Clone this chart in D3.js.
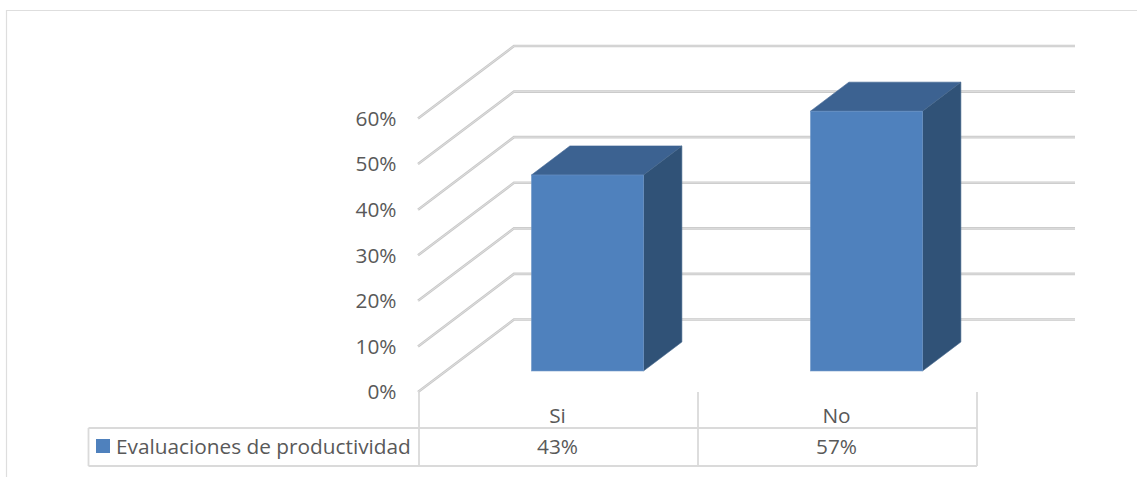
<!DOCTYPE html>
<html><head><meta charset="utf-8">
<script src="https://cdnjs.cloudflare.com/ajax/libs/d3/7.8.5/d3.min.js"></script>
<style>html,body{margin:0;padding:0;background:#fff}svg{display:block}text{font-family:"Open Sans",sans-serif;fill:#595959}</style>
</head><body><svg id="c" width="1137" height="477"></svg>
<script>
const categories = ["Si", "No"];
const seriesName = "Evaluaciones de productividad";
const seriesValues = [0.43, 0.57];
const tickValues = [0, 0.1, 0.2, 0.3, 0.4, 0.5, 0.6];

const W = 1137, H = 477;
const svg = d3.select("#c");
const y = d3.scaleLinear().domain([0, 0.6]).range([392, 118.5]);
const x = d3.scaleBand().domain(categories).range([419, 977]);
const depthX = 96, depthY = -72.5;
const barW = 112, barFrontFrac = 0.29, barBackFrac = 0.69, barShift = 30;
const fmt = d3.format(".0%");
const gridEdge = "#c9c9c9";
const fontSize = 20.8;

// outer frame
svg.append("path").attr("d", `M6.5,${H}V10.5H${W}`).attr("fill", "none").attr("stroke", "#dedede").attr("stroke-width", 1.2);

// gridlines: side wall + back wall
const gridG = svg.append("g").attr("fill", "none");
tickValues.forEach(t => {
  const d = `M418,${y(t)}L${418 + depthX},${y(t) + depthY}H1075`;
  gridG.append("path").attr("d", d).attr("stroke", gridEdge).attr("stroke-width", 2.6);
  gridG.append("path").attr("d", d).attr("stroke", "#dedede").attr("stroke-width", 1);
});

// y tick labels
svg.append("g").selectAll("text").data(tickValues).join("text")
  .attr("x", 396.5).attr("y", d => y(d)).attr("dy", "0.35em").attr("text-anchor", "end")
  .attr("font-size", fontSize).text(fmt);

// bars
const px = d => x(d) + (x.bandwidth() - barW) / 2 - 1 + barShift;
const base = y(0) + depthY * barFrontFrac;
const hgt = v => y(0) - y(v);
const dxB = depthX * (barBackFrac - barFrontFrac), dyB = depthY * (barBackFrac - barFrontFrac);
const bars = svg.append("g").selectAll("g").data(seriesValues).join("g");
const X = (d, i) => px(categories[i]);
bars.append("path").attr("fill", "#3c6291").attr("stroke", "#3c6291").attr("stroke-width", .6)
  .attr("d", (d, i) => { const l = X(d, i), t = base - hgt(d); return `M${l},${t}l${dxB},${dyB}h${barW}l${-dxB},${-dyB}Z`; });
bars.append("path").attr("fill", "#305277").attr("stroke", "#4a6b91").attr("stroke-width", .6)
  .attr("d", (d, i) => { const r = X(d, i) + barW, t = base - hgt(d); return `M${r},${t}l${dxB},${dyB}V${base + dyB}L${r},${base}Z`; });
bars.append("rect").attr("fill", "#4f81bd").attr("stroke", "#6d94c6").attr("stroke-width", .6)
  .attr("x", (d, i) => X(d, i)).attr("y", d => base - hgt(d)).attr("width", barW).attr("height", d => hgt(d));

// data table
const tL = 88.5, tT = 428, tB = 466;
const tbl = svg.append("g").attr("fill", "none").attr("stroke", "#dadada").attr("stroke-width", 1.8);
tbl.append("path").attr("d", `M${tL},${tT}H${x.range()[1]}M${tL},${tB}H${x.range()[1]}M${tL},${tT}V${tB}`);
[x.range()[0], x("No"), x.range()[1]].forEach(v => tbl.append("path").attr("d", `M${v},392V${tB}`));

svg.append("g").selectAll("text").data(categories).join("text")
  .attr("x", d => x(d) + x.bandwidth() / 2 - 1).attr("y", 416).attr("dy", "0.35em").attr("text-anchor", "middle")
  .attr("font-size", fontSize).text(d => d);
svg.append("g").selectAll("text").data(seriesValues).join("text")
  .attr("x", (d, i) => x(categories[i]) + x.bandwidth() / 2 - 1).attr("y", 447).attr("dy", "0.35em").attr("text-anchor", "middle")
  .attr("font-size", fontSize).text(fmt);

svg.append("rect").attr("x", 96).attr("y", 439).attr("width", 14).attr("height", 14).attr("fill", "#4f81bd");
svg.append("text").attr("x", 116).attr("y", 447).attr("dy", "0.35em").attr("font-size", fontSize).text(seriesName);
</script></body></html>
